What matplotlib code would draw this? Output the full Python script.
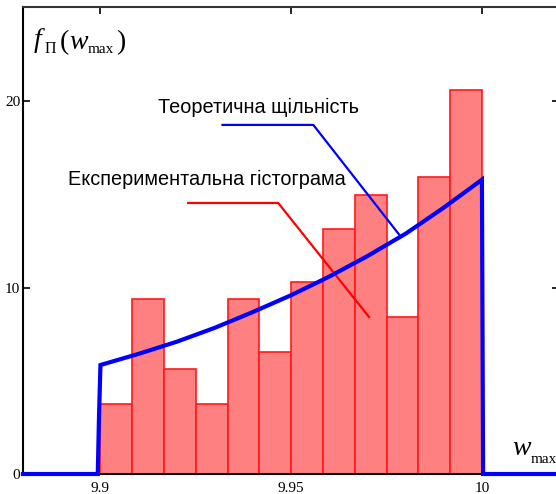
#!/usr/bin/env python3

## histogram of w_max vs. theoretical density (mathcad style plot)

import numpy as np
import matplotlib
matplotlib.use("Agg")
import matplotlib.pyplot as plt

## histogram: 12 bins between 9.9 and 10
bin_left = 9.9
bin_right = 10.0
n_bins = 12
hist_vals = [3.75, 9.38, 5.63, 3.75, 9.38, 6.56, 10.31, 13.13, 15.0, 8.44, 15.94, 20.63]

## theoretical density
w_pts = [9.9, 9.91, 9.92, 9.93, 9.94, 9.95, 9.96, 9.97, 9.98, 9.99, 10.0]
f_pts = [5.85, 6.45, 7.1, 7.85, 8.7, 9.6, 10.6, 11.7, 12.9, 14.3, 15.8]

## ticks
xticks = [9.9, 9.95, 10.0]
xticklabels = ["9.9", "9.95", "10"]
yticks = [0, 10, 20]
yticklabels = ["0", "10", "20"]

## labels and callouts
theory_label = "Теоретична щільність"
hist_label = "Експериментальна гістограма"
theory_leader = ([9.9320, 9.9558, 9.9785], [18.74, 18.74, 12.80])
hist_leader = ([9.9230, 9.9466, 9.9704], [14.55, 14.55, 8.43])

XMIN, XMAX = 9.8797, 10.0202
YMIN, YMAX = 0, 25.07
W, H = 556, 494

fig = plt.figure(figsize=(W/100, H/100), dpi=100)
ax = fig.add_axes([23/W, 20/H, 536/W, 467/H])

## bars
edges = np.linspace(bin_left, bin_right, n_bins + 1)
width = edges[1] - edges[0]
ax.bar(edges[:-1], hist_vals, width=width, align='edge',
       color='#ff8080', edgecolor='#ff1a1a', linewidth=1.2, zorder=2)

## full blue curve: zero outside [9.9, 10]
w_full = [XMIN, 9.8993, 9.8996] + w_pts + [10.0003, XMAX]
f_full = [0, 0, 2.9] + f_pts + [0, 0]
ax.plot(w_full, f_full, color='#0000ff', linewidth=3.0, zorder=4,
        solid_joinstyle='miter', clip_on=False)

## leader lines
ax.plot(*theory_leader, color='#0000ff', linewidth=1.6, zorder=3)
ax.plot(*hist_leader, color='#ff0000', linewidth=1.6, zorder=3)

ax.text(9.9151, 19.38, theory_label, fontsize=14.3,
        family='Liberation Sans', va='baseline')
ax.text(9.8915, 15.52, hist_label, fontsize=14.3,
        family='Liberation Sans', va='baseline')

ax.set_xlim(XMIN, XMAX)
ax.set_ylim(YMIN, YMAX)
ax.set_xticks(xticks)
ax.set_xticklabels(xticklabels)
ax.set_yticks(yticks)
ax.set_yticklabels(yticklabels)
ax.tick_params(direction='in', length=5, width=1.2, top=True, right=True,
               labelsize=11)
ax.tick_params(axis='x', pad=6)
ax.tick_params(axis='y', pad=2)
for lab in ax.get_xticklabels() + ax.get_yticklabels():
    lab.set_family('Liberation Serif')
for sp in ax.spines.values():
    sp.set_linewidth(1.5)
ax.spines['top'].set_color('#333333')

def piece(x, y, s, size, italic=False):
    '''put a bit of a label at pixel x (left) and baseline y'''
    fig.text(x/W, 1 - y/H, s, fontsize=size, family='Liberation Serif',
             style='italic' if italic else 'normal', va='baseline', ha='left')

## f_П(w_max) in the top left corner
piece(34, 47, "f", 20, italic=True)
piece(45, 53, "П", 11.5)
piece(60, 49, "(", 20)
piece(69, 49, "w", 20, italic=True)
piece(88, 53, "max", 11)
piece(116, 49, ")", 20)

## w_max by the x axis
piece(512, 455, "w", 20, italic=True)
piece(531, 463, "max", 11)

fig.savefig("out.png", dpi=100)
